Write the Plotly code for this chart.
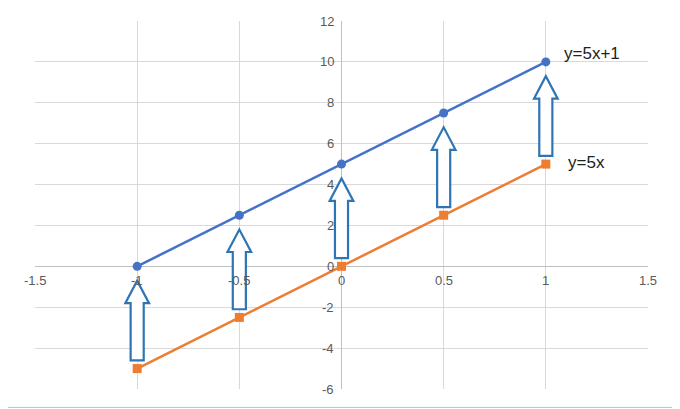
import plotly.graph_objects as go

xs = [-1, -0.5, 0, 0.5, 1]
y_line1 = [0, 2.5, 5, 7.5, 10]   # y=5x+1 (as drawn)
y_line2 = [-5, -2.5, 0, 2.5, 5]  # y=5x
x_ticks = [-1.5, -1, -0.5, 0, 0.5, 1, 1.5]
y_ticks = [-6, -4, -2, 0, 2, 4, 6, 8, 10, 12]

blue = "#4472C4"
orange = "#ED7D31"

fig = go.Figure()
fig.add_trace(go.Scatter(x=xs, y=y_line2, mode="lines+markers",
    line=dict(color=orange, width=2.5), marker=dict(symbol="square", size=9, color=orange)))
fig.add_trace(go.Scatter(x=xs, y=y_line1, mode="lines+markers",
    line=dict(color=blue, width=2.5), marker=dict(symbol="circle", size=9, color=blue)))

sw, hw, hh = 0.032, 0.058, 1.1
for x, y0, y1 in zip(xs, y_line2, y_line1):
    b, t = y0 + 0.4, y1 - 0.7
    n = t - hh
    p = (f"M {x-sw},{b} L {x+sw},{b} L {x+sw},{n} L {x+hw},{n} L {x},{t} "
         f"L {x-hw},{n} L {x-sw},{n} Z")
    fig.add_shape(type="path", path=p, line=dict(color="#2E75B6", width=2.2),
                  fillcolor="white", layer="above")

anns = []
for v in x_ticks:
    anns.append(dict(x=v, y=0, text=f"{v:g}", showarrow=False, yshift=-14,
                     font=dict(size=13, color="#595959")))
for v in y_ticks:
    anns.append(dict(x=0, y=v, text=f"{v:g}", showarrow=False, xanchor="right", xshift=-6,
                     font=dict(size=13, color="#595959")))
anns.append(dict(x=1.08, y=10.4, text="y=5x+1", showarrow=False, xanchor="left",
                 font=dict(size=17, color="#222")))
anns.append(dict(x=1.1, y=5.1, text="y=5x", showarrow=False, xanchor="left",
                 font=dict(size=17, color="#222")))

fig.update_layout(
    width=680, height=409, margin=dict(l=27, r=40, t=13, b=28),
    plot_bgcolor="white", paper_bgcolor="white", showlegend=False,
    font=dict(family="Liberation Sans"),
    annotations=anns,
    xaxis=dict(range=[-1.5, 1.5], tickvals=x_ticks, showticklabels=False,
               showgrid=True, gridcolor="#D9D9D9", zeroline=True, zerolinecolor="#BFBFBF",
               zerolinewidth=1.2),
    yaxis=dict(range=[-6, 12], tickvals=y_ticks, showticklabels=False,
               showgrid=True, gridcolor="#D9D9D9", zeroline=True, zerolinecolor="#BFBFBF",
               zerolinewidth=1.2),
)
fig.add_shape(type="rect", xref="paper", yref="paper", x0=-0.054, x1=1.048, y0=-0.05, y1=1.05,
              line=dict(color="#BFBFBF", width=1))
fig.write_html("out.html")
